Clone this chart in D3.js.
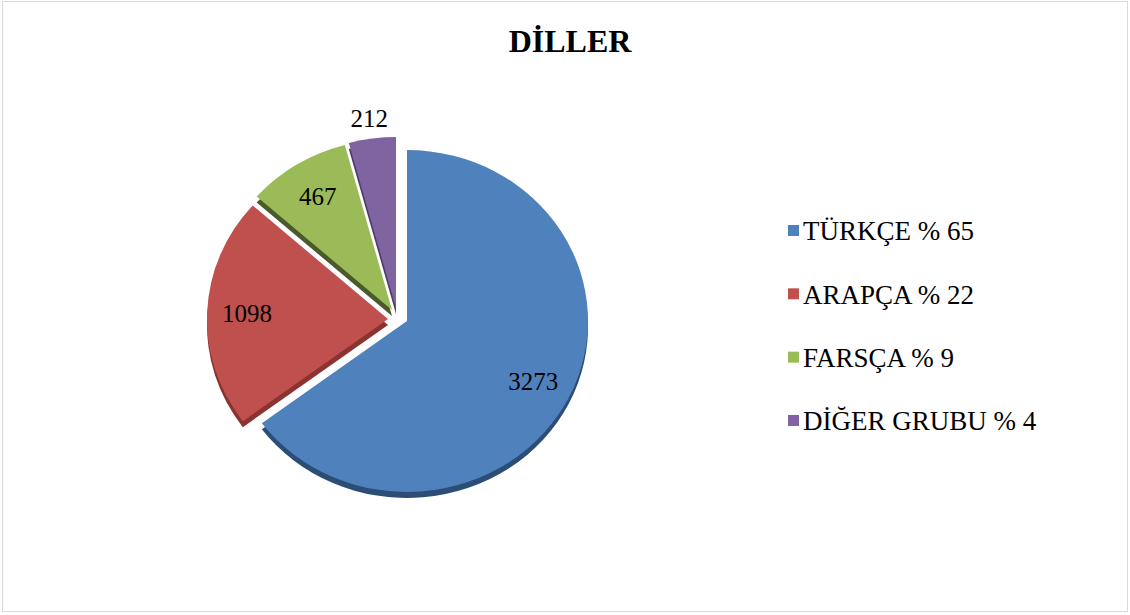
<!DOCTYPE html>
<html>
<head>
<meta charset="utf-8">
<script src="https://d3js.org/d3.v7.min.js"></script>
<style>
	body { margin: 0; background: #fff; }
	svg { display: block; }
</style>
</head>
<body>
<svg id="chart" width="1130" height="615"></svg>
<script>
// data
var title      = "DİLLER";
var languages  = ["TÜRKÇE", "ARAPÇA", "FARSÇA", "DİĞER GRUBU"];
var counts     = [3273, 1098, 467, 212];
var percents   = [65, 22, 9, 4];
var colors     = ["#4F81BD", "#C0504D", "#9BBB59", "#8064A2"];
var sideColors = ["#2c4d75", "#8a3331", "#4b5a2a", "#4f3b68"];
// exploded slice offsets [dx, dy]
var explode    = [[0, 0], [-19, -2], [-15, -11], [-11, -13]];

var W = 1130, H = 615;
var cx = 407, cy = 321;
var rx = 181, ry = 171;
var depth = 6;
var squash = ry / rx;

var svg = d3.select("#chart");

// frame
svg.append("rect")
	.attr("x", 2.5).attr("y", 1.5)
	.attr("width", 1125).attr("height", 610)
	.attr("fill", "#fff")
	.attr("stroke", "#d9d9d9");

svg.append("text")
	.attr("x", 570).attr("y", 52)
	.attr("text-anchor", "middle")
	.attr("font-family", "'Liberation Serif', 'Times New Roman', serif")
	.attr("font-weight", "bold")
	.attr("font-size", 32)
	.text(title);

var items = languages.map(function(name, i) {
	return { name: name, value: counts[i], pct: percents[i], i: i };
});

var pie = d3.pie().sort(null).value(function(d){ return d.value; });
var arcs = pie(items);
var arc = d3.arc().innerRadius(0).outerRadius(rx);

function offset(d) {
	return explode[d.data.i];
}

// side (depth) layer first, then faces
var side = svg.append("g");
var face = svg.append("g");

arcs.forEach(function(d) {
	var o = offset(d);
	side.append("path")
		.attr("transform", "translate(" + (cx + o[0]) + "," + (cy + o[1] + depth) + ") scale(1," + squash + ")")
		.attr("d", arc(d))
		.attr("fill", sideColors[d.data.i]);
});

arcs.forEach(function(d) {
	var o = offset(d);
	face.append("path")
		.attr("transform", "translate(" + (cx + o[0]) + "," + (cy + o[1]) + ") scale(1," + squash + ")")
		.attr("d", arc(d))
		.attr("fill", colors[d.data.i]);
});

// value labels
var labels = svg.append("g")
	.attr("font-family", "'Liberation Serif', 'Times New Roman', serif")
	.attr("font-size", 25)
	.attr("fill", "#000")
	.attr("text-anchor", "middle");

arcs.forEach(function(d) {
	var o = offset(d);
	var a = (d.startAngle + d.endAngle) / 2;
	var small = (d.endAngle - d.startAngle) < 0.3;
	var r = small ? rx + 22 : rx * 0.78;
	labels.append("text")
		.attr("x", cx + o[0] + Math.sin(a) * r)
		.attr("y", cy + o[1] - Math.cos(a) * r * squash)
		.attr("dy", "0.35em")
		.text(d.data.value);
});

// legend
var legend = svg.append("g")
	.attr("font-family", "'Liberation Serif', 'Times New Roman', serif")
	.attr("font-size", 27);

var rowY = d3.scalePoint().domain(languages).range([231, 421]);

items.forEach(function(d) {
	var y = rowY(d.name);
	legend.append("rect")
		.attr("x", 788).attr("y", y - 6)
		.attr("width", 11).attr("height", 11)
		.attr("fill", colors[d.i]);
	legend.append("text")
		.attr("x", 803).attr("y", y)
		.attr("dy", "0.35em")
		.text(d.name + " % " + d.pct);
});
</script>
</body>
</html>
